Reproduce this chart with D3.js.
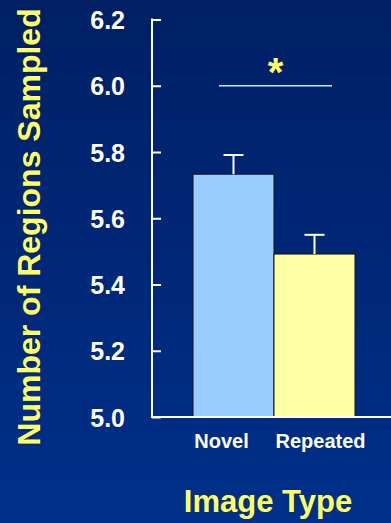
<!DOCTYPE html>
<html>
<head>
<meta charset="utf-8">
<script src="https://cdn.jsdelivr.net/npm/d3@7/dist/d3.min.js"></script>
<style>
  html, body { margin: 0; padding: 0; background: #002570; }
  svg { display: block; }
</style>
</head>
<body>
<svg id="chart" width="391" height="523"></svg>
<script>
// Mean number of regions sampled per image type, with standard errors
const categories = ["Novel", "Repeated"];
const means = [5.733, 5.492];
const errors = [0.058, 0.058];
const barColors = ["#99ccff", "#ffffa6"];
const yTicks = [5.0, 5.2, 5.4, 5.6, 5.8, 6.0, 6.2];
const yTitle = "Number of Regions Sampled";
const xTitle = "Image Type";
const significance = { from: "Novel", to: "Repeated", level: 6.0, mark: "*" };

const W = 391, H = 523;
const svg = d3.select("#chart");
const font = "'Liberation Sans', Arial, Helvetica, sans-serif";

// Background gradient
const defs = svg.append("defs");
const grad = defs.append("linearGradient")
  .attr("id", "bg").attr("x1", 0).attr("y1", 0).attr("x2", 0).attr("y2", 1);
grad.append("stop").attr("offset", "0%").attr("stop-color", "#001f64");
grad.append("stop").attr("offset", "100%").attr("stop-color", "#00308a");
svg.append("rect").attr("width", W).attr("height", H).attr("fill", "url(#bg)");

const axisX = 152;
const y = d3.scaleLinear().domain([5.0, 6.2]).range([417, 19.5]);
const x = d3.scaleBand().domain(categories).range([193, 355]).paddingInner(0).paddingOuter(0);

// Y axis: ticks point inward, labels sit to the left
const yAxis = d3.axisRight(y)
  .tickValues(yTicks)
  .tickSize(9)
  .tickFormat(d3.format(".1f"));
const gy = svg.append("g").attr("transform", `translate(${axisX},0)`).call(yAxis);
gy.select(".domain").remove();
gy.selectAll(".tick line").attr("stroke", "#ffffff").attr("stroke-width", 2);
gy.selectAll(".tick text")
  .attr("x", -27)
  .attr("dy", "0.36em")
  .attr("text-anchor", "end")
  .attr("fill", "#ffffff")
  .attr("font-family", font)
  .attr("font-weight", "bold")
  .attr("font-size", 25);

// Axis lines
svg.append("line")
  .attr("x1", axisX).attr("x2", axisX)
  .attr("y1", y(6.2) - 1).attr("y2", y(5.0))
  .attr("stroke", "#ffffff").attr("stroke-width", 2);

// Bars
svg.append("g").selectAll("rect")
  .data(categories)
  .join("rect")
  .attr("x", d => x(d))
  .attr("y", (d, i) => y(means[i]))
  .attr("width", x.bandwidth())
  .attr("height", (d, i) => y(5.0) - y(means[i]))
  .attr("fill", (d, i) => barColors[i])
  .attr("stroke", "#111111")
  .attr("stroke-width", 1);

// Baseline drawn over the bar outlines
svg.append("line")
  .attr("x1", axisX - 1).attr("x2", W)
  .attr("y1", y(5.0)).attr("y2", y(5.0))
  .attr("stroke", "#ffffff").attr("stroke-width", 2);

// Upper error bars
const eb = svg.append("g").selectAll("g")
  .data(categories)
  .join("g");
eb.append("line")
  .attr("x1", d => x(d) + x.bandwidth() / 2)
  .attr("x2", d => x(d) + x.bandwidth() / 2)
  .attr("y1", (d, i) => y(means[i]))
  .attr("y2", (d, i) => y(means[i] + errors[i]))
  .attr("stroke", "#ffffff").attr("stroke-width", 2);
eb.append("line")
  .attr("x1", d => x(d) + x.bandwidth() / 2 - 10)
  .attr("x2", d => x(d) + x.bandwidth() / 2 + 10)
  .attr("y1", (d, i) => y(means[i] + errors[i]))
  .attr("y2", (d, i) => y(means[i] + errors[i]))
  .attr("stroke", "#ffffff").attr("stroke-width", 2);

// Significance marker
const sigX1 = x(significance.from) + 26;
const sigX2 = x(significance.to) + x.bandwidth() - 23;
svg.append("line")
  .attr("x1", sigX1).attr("x2", sigX2)
  .attr("y1", y(significance.level)).attr("y2", y(significance.level))
  .attr("stroke", "#d4e4ff").attr("stroke-width", 1.6);
svg.append("text")
  .attr("x", (sigX1 + sigX2) / 2)
  .attr("y", y(significance.level))
  .attr("text-anchor", "middle")
  .attr("fill", "#ffff66")
  .attr("font-family", font)
  .attr("font-weight", "bold")
  .attr("font-size", 40)
  .text(significance.mark);

// Category labels
const labelShift = { Novel: -12, Repeated: 6 };
svg.append("g").selectAll("text")
  .data(categories)
  .join("text")
  .attr("x", d => x(d) + x.bandwidth() / 2 + labelShift[d])
  .attr("y", 448)
  .attr("text-anchor", "middle")
  .attr("fill", "#ffffff")
  .attr("font-family", font)
  .attr("font-weight", "bold")
  .attr("font-size", 20)
  .text(d => d);

// Axis titles
svg.append("text")
  .attr("transform", "translate(40,227) rotate(-90)")
  .attr("text-anchor", "middle")
  .attr("fill", "#ffff66")
  .attr("font-family", font)
  .attr("font-weight", "bold")
  .attr("font-size", 32)
  .text(yTitle);

svg.append("text")
  .attr("x", 268)
  .attr("y", 512)
  .attr("text-anchor", "middle")
  .attr("fill", "#ffff66")
  .attr("font-family", font)
  .attr("font-weight", "bold")
  .attr("font-size", 31)
  .text(xTitle);
</script>
</body>
</html>
